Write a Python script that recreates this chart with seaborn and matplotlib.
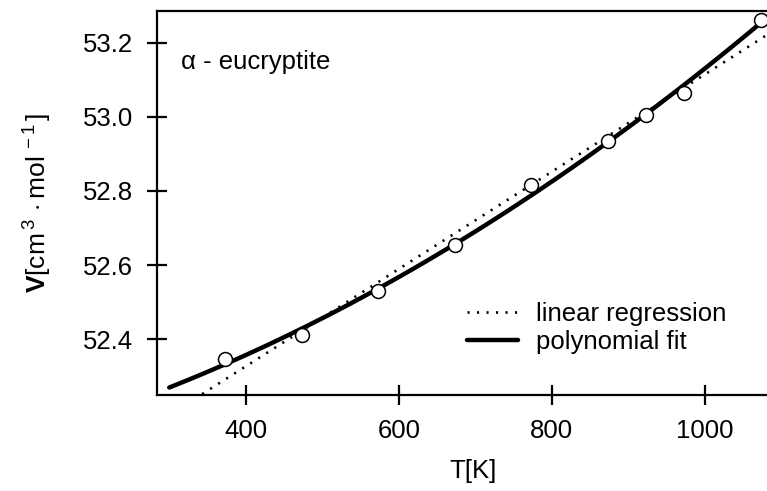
import numpy as np
import matplotlib
matplotlib.use("Agg")
import matplotlib.pyplot as plt
import seaborn as sns

# measured molar volume of alpha-eucryptite
temp_k = [373, 473, 573, 673, 773, 873, 923, 973, 1073]
volume = [52.345, 52.41, 52.53, 52.653, 52.815, 52.935, 53.005, 53.065, 53.262]
x_ticks = [400, 600, 800, 1000]
y_ticks = [52.4, 52.6, 52.8, 53.0, 53.2]

sns.set_style("ticks")
plt.rcParams['font.family'] = ['Liberation Sans', 'DejaVu Sans']
plt.rcParams['mathtext.fontset'] = 'custom'
plt.rcParams['mathtext.rm'] = 'Liberation Sans'
plt.rcParams['mathtext.bf'] = 'Liberation Sans:bold'
plt.rcParams['text.color'] = 'black'
plt.rcParams['axes.labelcolor'] = 'black'
plt.rcParams['xtick.color'] = 'black'
plt.rcParams['ytick.color'] = 'black'

lin = np.polyfit(temp_k, volume, 1)
poly = np.polyfit(temp_k, volume, 2)
t_lin = np.linspace(343, 1100, 60)
t_poly = np.linspace(300, 1100, 120)

fig = plt.figure(figsize=(7.67, 4.91), dpi=100)
ax = fig.add_axes([157 / 767, 96 / 491, 632 / 767, 384 / 491])

sns.lineplot(x=t_lin, y=np.polyval(lin, t_lin), ax=ax, color='black',
             linestyle=(0, (0.8, 2.8)), linewidth=1.9, label='linear regression')
sns.lineplot(x=t_poly, y=np.polyval(poly, t_poly), ax=ax, color='black',
             linewidth=3.2, label='polynomial fit')
sns.scatterplot(x=temp_k, y=volume, ax=ax, s=100, color='white',
                edgecolor='black', linewidth=1.1, zorder=5, clip_on=False)

ax.set_xlim(284, 1110)
ax.set_ylim(52.249, 53.286)
ax.set_xticks(x_ticks)
ax.set_yticks(y_ticks)
ax.set_yticklabels([f"{v:.1f}" for v in y_ticks])
ax.tick_params(direction='inout', length=14, width=1.6, labelsize=18.5)
ax.tick_params(axis='x', pad=10)
ax.tick_params(axis='y', pad=10)
for s in ['left', 'bottom', 'top']:
    ax.spines[s].set_linewidth(1.6)
    ax.spines[s].set_color('black')
ax.spines['right'].set_visible(False)

ax.set_xlabel('T[K]', fontsize=18.5, labelpad=12)
ax.set_ylabel(r'$\mathbf{V}[\mathrm{cm}^{\,3\,}\cdot\mathrm{mol}^{\,-1\,}]$',
              fontsize=19, labelpad=22)

ax.text(24 / 632, (395 - 62) / 384, 'α - eucryptite', transform=ax.transAxes,
        fontsize=18.5, ha='left', va='center')

ax.legend(loc='upper left', bbox_to_anchor=(449 / 767, 1 - 284 / 491),
          bbox_transform=fig.transFigure, frameon=False, fontsize=18.5,
          handlelength=2.0, handletextpad=0.7, labelspacing=0.15,
          borderpad=0.2)

fig.savefig('out.png', dpi=100)
